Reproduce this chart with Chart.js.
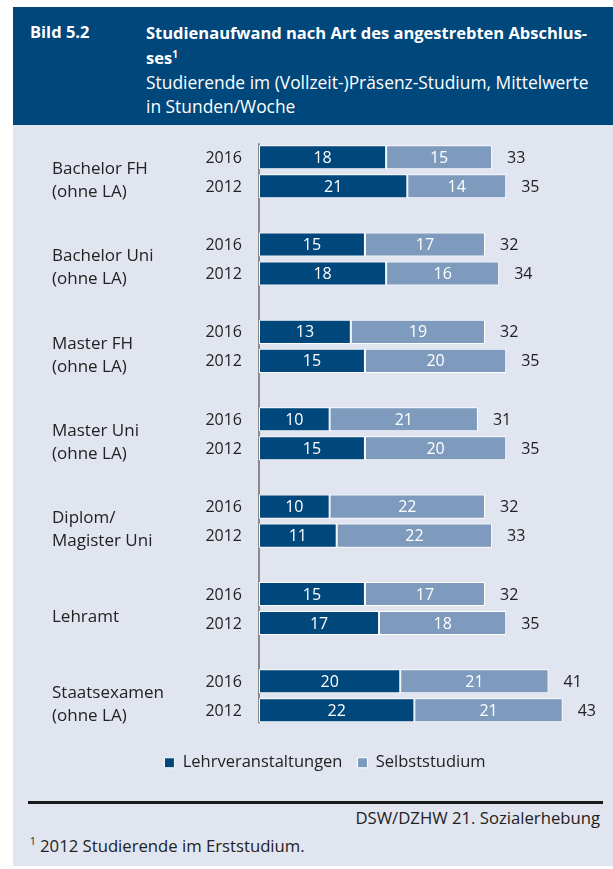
<!DOCTYPE html>
<html>
<head>
<meta charset="utf-8">
<script src="https://cdn.jsdelivr.net/npm/chart.js@4/dist/chart.umd.min.js"></script>
<style>
  body { margin: 0; background: #fff; font-family: "Open Sans", sans-serif; color: #222; }
  #panel { position: absolute; left: 13px; top: 7px; width: 600px; height: 859px; background: #e1e5ef; }
  #head { position: absolute; left: 13px; top: 7px; width: 600px; height: 118px; background: #00477b; color: #fff; font-size: 17.4px; line-height: 24px; }
  #head .num { position: absolute; left: 17px; top: 13px; font-weight: bold; font-size: 16.5px; }
  #head .ttl { position: absolute; left: 133px; top: 13px; white-space: nowrap; }
  #head b { font-size: 16.5px; }
  #head sup { font-size: 10px; line-height: 0; }
  #chartBox { position: absolute; left: 13px; top: 124px; }
  #rule { position: absolute; left: 28px; top: 801px; width: 575px; height: 3px; background: #1a1a1a; }
  #src { position: absolute; right: 13px; top: 806px; font-size: 16.7px; }
  #note { position: absolute; left: 30px; top: 834px; font-size: 16.7px; }
  #note sup { font-size: 10px; }
</style>
</head>
<body>
<div id="panel"></div>
<div id="head">
  <div class="num">Bild 5.2</div>
  <div class="ttl"><b>Studienaufwand nach Art des angestrebten Abschlus-<br>ses<sup>1</sup></b><br>Studierende im (Vollzeit-)Präsenz-Studium, Mittelwerte<br>in Stunden/Woche</div>
</div>
<div id="chartBox"><canvas id="chart" width="600" height="657"></canvas></div>
<div id="rule"></div>
<div id="src">DSW/DZHW 21. Sozialerhebung</div>
<div id="note"><sup>1</sup> 2012 Studierende im Erststudium.</div>

<script>
// Daten
var categories = [
  ["Bachelor FH", "(ohne LA)"],
  ["Bachelor Uni", "(ohne LA)"],
  ["Master FH", "(ohne LA)"],
  ["Master Uni", "(ohne LA)"],
  ["Diplom/", "Magister Uni"],
  "Lehramt",
  ["Staatsexamen", "(ohne LA)"]
];
var years = ["2016", "2012"];
var lehr2016 = [18, 15, 13, 10, 10, 15, 20];
var selbst2016 = [15, 17, 19, 21, 22, 17, 21];
var lehr2012 = [21, 18, 15, 15, 11, 17, 22];
var selbst2012 = [14, 16, 20, 20, 22, 18, 21];
var total2016 = [33, 32, 32, 31, 32, 32, 41];
var total2012 = [35, 34, 35, 35, 33, 35, 43];

var dark = "#00477b";
var light = "#7e9bbe";
var font = '"Open Sans", sans-serif';

function bar(label, data, color, year, totals) {
  return {
    label: label, data: data, stack: year, year: year, totals: totals,
    backgroundColor: color, borderColor: "#ffffff", borderWidth: 1, borderSkipped: false
  };
}

// Jahreszahlen, Werte in den Balken, Summen und Achsenlinie
var textPlugin = {
  id: "barText",
  beforeDatasetsDraw: function (chart) {
    var ctx = chart.ctx;
    var first = chart.getDatasetMeta(0).data[0];
    var metaLast = chart.getDatasetMeta(2).data;
    var last = metaLast[metaLast.length - 1];
    ctx.save();
    ctx.strokeStyle = "#8a8a8a";
    ctx.lineWidth = 2;
    ctx.beginPath();
    ctx.moveTo(chart.chartArea.left, first.y - first.height / 2 - 2);
    ctx.lineTo(chart.chartArea.left, last.y + last.height / 2 + 1);
    ctx.stroke();
    ctx.restore();
  },
  afterDatasetsDraw: function (chart) {
    var ctx = chart.ctx;
    ctx.save();
    ctx.font = "16px " + font;
    ctx.textBaseline = "middle";
    chart.data.datasets.forEach(function (ds, i) {
      var meta = chart.getDatasetMeta(i);
      meta.data.forEach(function (el, j) {
        ctx.fillStyle = "#ffffff";
        ctx.textAlign = "center";
        ctx.fillText(ds.data[j], (el.x + el.base) / 2, el.y + 1);
        ctx.fillStyle = "#222";
        if (ds.totals) {
          ctx.textAlign = "left";
          ctx.fillText(ds.totals[j], el.x + 15, el.y + 1);
        } else {
          ctx.textAlign = "right";
          ctx.fillText(ds.year, chart.chartArea.left - 17, el.y + 1);
        }
      });
    });
    ctx.restore();
  }
};

var ctx = document.getElementById("chart").getContext("2d");
var chart = new Chart(ctx, {
  type: "bar",
  data: {
    labels: categories,
    datasets: [
      bar("Lehrveranstaltungen", lehr2016, dark, years[0]),
      bar("Selbststudium", selbst2016, light, years[0], total2016),
      bar("Lehrveranstaltungen", lehr2012, dark, years[1]),
      bar("Selbststudium", selbst2012, light, years[1], total2012)
    ]
  },
  options: {
    indexAxis: "y",
    responsive: false,
    animation: false,
    categoryPercentage: 0.664,
    barPercentage: 0.83,
    layout: { padding: { left: 39, right: 15, top: 4, bottom: 0 } },
    scales: {
      x: { display: false, stacked: true, min: 0, max: 48 },
      y: {
        stacked: true,
        grid: { display: false },
        border: { display: false },
        ticks: { crossAlign: "far", labelOffset: 9, padding: 0, color: "#222", font: { family: font, size: 17, lineHeight: 1.35 } },
        afterFit: function (s) { s.width = 207; s.paddingTop = 0; s.paddingBottom = 0; }
      }
    },
    plugins: {
      tooltip: { enabled: false },
      legend: {
        position: "bottom",
        labels: {
          boxWidth: 10, boxHeight: 10, padding: 15, color: "#222",
          font: { family: font, size: 16.5 },
          filter: function (item) { return item.datasetIndex < 2; }
        }
      }
    }
  },
  plugins: [textPlugin]
});
</script>
</body>
</html>
